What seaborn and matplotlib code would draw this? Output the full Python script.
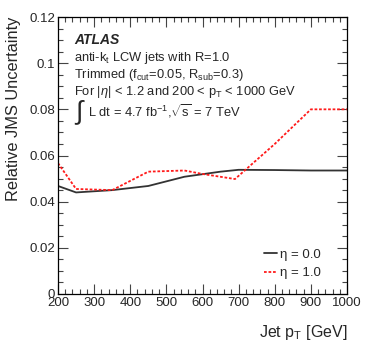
import matplotlib
matplotlib.use("Agg")
import matplotlib.pyplot as plt
import seaborn as sns
import pandas as pd
from matplotlib.ticker import MultipleLocator
from matplotlib.lines import Line2D

# values
pt_eta0 = [200, 250, 350, 450, 550, 650, 700, 800, 900, 1000]
unc_eta0 = [0.0468, 0.0440, 0.0450, 0.0468, 0.0508, 0.0530, 0.0538, 0.0537, 0.0535, 0.0535]
pt_eta1 = [200, 250, 350, 450, 550, 600, 690, 800, 900, 1000]
unc_eta1 = [0.0567, 0.0455, 0.0450, 0.0530, 0.0535, 0.0520, 0.0498, 0.0650, 0.0800, 0.0800]
labels = ["η = 0.0", "η = 1.0"]

df = pd.concat([
    pd.DataFrame({"pt": pt_eta0, "unc": unc_eta0, "series": labels[0]}),
    pd.DataFrame({"pt": pt_eta1, "unc": unc_eta1, "series": labels[1]}),
])

sns.set_style("white")
plt.rcParams['font.family'] = ['Liberation Sans', 'DejaVu Sans']
plt.rcParams['mathtext.fontset'] = 'custom'
plt.rcParams['mathtext.rm'] = 'Liberation Sans'
plt.rcParams['mathtext.it'] = 'Liberation Sans:italic'

fig = plt.figure(figsize=(3.66, 3.51), dpi=100)
ax = fig.add_axes([58 / 366, 1 - 294 / 351, 289 / 366, 277 / 351])

line_colors = ["#333333", "#ff1a1a"]
line_dash = (1.5, 1.0)
sns.lineplot(data=df, x="pt", y="unc", hue="series", style="series",
             palette=line_colors, dashes=[(None, None), line_dash],
             linewidth=1.3, ax=ax, legend=False)

ax.set_xlim(200, 1000)
ax.set_ylim(0, 0.12)
ax.xaxis.set_major_locator(MultipleLocator(100))
ax.xaxis.set_minor_locator(MultipleLocator(20))
ax.set_yticks([0, 0.02, 0.04, 0.06, 0.08, 0.1, 0.12])
ax.set_yticklabels(["0", "0.02", "0.04", "0.06", "0.08", "0.1", "0.12"])
ax.yaxis.set_minor_locator(MultipleLocator(0.005))
ax.tick_params(which="both", direction="in", bottom=True, left=True,
               top=True, right=True, labelsize=9.5, pad=2, color="#444444")
ax.tick_params(which="major", length=7, width=0.8)
ax.tick_params(which="minor", length=3.5, width=0.8)
for s in ax.spines.values():
    s.set_linewidth(0.9)
    s.set_color("black")

ax.set_xlabel(r"Jet p$_\mathregular{T}$ [GeV]", fontsize=11.5, loc="right",
              labelpad=10)
ax.set_ylabel("Relative JMS Uncertainty", fontsize=11.8, loc="top", labelpad=6)

# annotations
x0 = 0.055
ax.text(x0, 0.917, "ATLAS", transform=ax.transAxes, fontsize=10,
        fontweight="bold", fontstyle="italic", va="center")
ax.text(x0, 0.852, r"anti-k$_\mathregular{t}$ LCW jets with R=1.0",
        transform=ax.transAxes, fontsize=9.3, va="center")
ax.text(x0, 0.79, r"Trimmed (f$_\mathregular{cut}$=0.05, R$_\mathregular{sub}$=0.3)",
        transform=ax.transAxes, fontsize=9.3, va="center")
ax.text(x0, 0.73, r"For |$\eta$| < 1.2 and 200 < p$_\mathregular{T}$ < 1000 GeV",
        transform=ax.transAxes, fontsize=9.3, va="center")
ax.text(x0, 0.655, r"$\int$", transform=ax.transAxes, fontsize=19, va="center")
ax.text(x0 + 0.05, 0.66, r"L dt = 4.7 fb$^{-1}$,$\sqrt{\mathregular{s}}$ = 7 TeV",
        transform=ax.transAxes, fontsize=9.3, va="center")

# legend
handles = [Line2D([], [], color=line_colors[0], lw=1.3),
           Line2D([], [], color=line_colors[1], lw=1.3, dashes=line_dash)]
ax.legend(handles, labels, loc="lower right", frameon=False, fontsize=9.5,
          handlelength=1.0, handletextpad=0.2, labelspacing=0.5,
          bbox_to_anchor=(0.95, 0.01))

fig.savefig("out.png", dpi=100)
